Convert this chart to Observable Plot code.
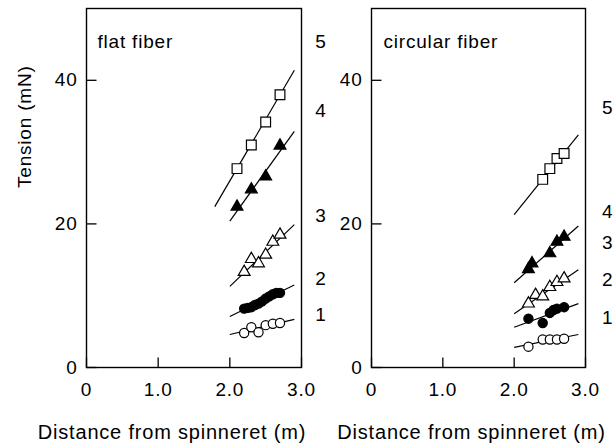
<!DOCTYPE html>
<html><head><meta charset="utf-8">
<script src="https://cdn.jsdelivr.net/npm/d3@7"></script>
<script src="https://cdn.jsdelivr.net/npm/@observablehq/plot@0.6"></script>
<style>
body{margin:0;background:#fff;}
#wrap{position:relative;width:613px;height:444px;overflow:hidden;}
#wrap svg{position:absolute;top:0;overflow:visible;}
</style></head><body><div id="wrap"></div>
<script>
// ---- data ----
const xTicks = [0, 1, 2, 3];
const xTickLabels = ["0", "1.0", "2.0", "3.0"];
const yTicks = [0, 20, 40];
const yTickLabels = ["0", "20", "40"];
const seriesNames = ["1", "2", "3", "4", "5"];
const panelTitles = ["flat fiber", "circular fiber"];
const xTitle = "Distance from spinneret (m)";
const yTitle = "Tension (mN)";

// flat fiber points
const flatX1 = [2.2, 2.3, 2.4, 2.5, 2.6, 2.7];
const flatY1 = [4.8, 5.6, 4.9, 5.9, 6.1, 6.2];
const flatX2 = [2.2, 2.25, 2.3, 2.35, 2.4, 2.45, 2.5, 2.55, 2.6, 2.65, 2.7];
const flatY2 = [8.2, 8.3, 8.4, 8.7, 8.9, 9.2, 9.6, 9.9, 10.2, 10.4, 10.4];
const flatX3 = [2.2, 2.3, 2.4, 2.5, 2.6, 2.7];
const flatY3 = [13.3, 15.1, 14.5, 15.7, 17.5, 18.5];
const flatX4 = [2.1, 2.3, 2.5, 2.7];
const flatY4 = [22.4, 24.8, 26.6, 30.9];
const flatX5 = [2.1, 2.3, 2.5, 2.7];
const flatY5 = [27.7, 31.0, 34.2, 38.0];
// flat fiber fit lines (series 1..5)
const flatLineX1 = [2.0, 2.0, 2.0, 2.0, 1.79];
const flatLineY1 = [4.6, 7.1, 11.3, 20.4, 22.4];
const flatLineX2 = [2.9, 2.9, 2.9, 2.9, 2.9];
const flatLineY2 = [6.7, 11.5, 19.9, 32.9, 41.4];
const flatLabelX = 3.27;
const flatLabelY = [7.3, 12.4, 21.1, 35.7, 45.3];

// circular fiber points
const circX1 = [2.2, 2.4, 2.5, 2.6, 2.7];
const circY1 = [2.9, 3.9, 3.9, 3.9, 4.0];
const circX2 = [2.2, 2.4, 2.5, 2.55, 2.6, 2.7];
const circY2 = [6.8, 6.2, 7.6, 8.0, 8.2, 8.4];
const circX3 = [2.2, 2.3, 2.4, 2.5, 2.6, 2.7];
const circY3 = [8.9, 10.1, 9.9, 11.2, 11.9, 12.4];
const circX4 = [2.2, 2.25, 2.5, 2.6, 2.7];
const circY4 = [13.7, 14.5, 15.9, 17.5, 18.2];
const circX5 = [2.4, 2.5, 2.6, 2.7];
const circY5 = [26.2, 27.7, 29.1, 29.8];
const circLineX1 = [2.0, 2.0, 2.0, 2.0, 2.0];
const circLineY1 = [2.8, 5.6, 7.5, 11.8, 21.3];
const circLineX2 = [2.9, 2.9, 2.9, 2.9, 2.9];
const circLineY2 = [4.6, 8.9, 13.6, 19.7, 32.4];
const circLabelX = 3.31;
const circLabelY = [6.9, 12.2, 17.3, 21.7, 36.2];

// ---- styles ----
const symbolOf = ["circle", "circle", "triangle", "triangle", "square"];
const fillOf = ["white", "black", "white", "black", "white"];
const rOf = [4.6, 4.6, 4.4, 4.4, 5.5];
const FONT = '"Liberation Sans", Arial, Helvetica, sans-serif';
const tickShape = {draw(ctx, l) { ctx.moveTo(0, 0); ctx.lineTo(0, -l); }};

function buildPanel(cfg) {
  const pts = cfg.xs.map((xa, i) => xa.map((x, j) => ({s: i, x, y: cfg.ys[i][j]})));
  const lines = seriesNames.map((s, i) => ({s, x1: cfg.lx1[i], y1: cfg.ly1[i], x2: cfg.lx2[i], y2: cfg.ly2[i]}));
  const labels = seriesNames.map((s, i) => ({s, y: cfg.labelY[i]}));
  const marks = [
    Plot.frame({stroke: "black", strokeWidth: 1.4}),
    Plot.vector(yTicks, {x: () => 0, y: d => d, length: 10, rotate: 90, anchor: "start", shape: tickShape, stroke: "black", strokeWidth: 1.3, strokeLinecap: "butt"}),
    Plot.vector(xTicks, {x: d => d, y: () => 0, length: 10, rotate: 0, anchor: "start", shape: tickShape, stroke: "black", strokeWidth: 1.3, strokeLinecap: "butt"}),
    Plot.axisY({ticks: yTicks, tickFormat: d => yTickLabels[yTicks.indexOf(d)], tickSize: 0, tickPadding: 9, label: null}),
    Plot.axisX({ticks: xTicks, tickFormat: d => xTickLabels[xTicks.indexOf(d)], tickSize: 0, tickPadding: 15, label: null}),
    Plot.link(lines, {x1: "x1", y1: "y1", x2: "x2", y2: "y2", stroke: "black", strokeWidth: 1.2}),
    ...pts.map((p, i) => Plot.dot(p, {x: "x", y: "y", symbol: () => symbolOf[i], r: rOf[i], fill: fillOf[i], stroke: "black", strokeWidth: 1.2})),
    Plot.text(labels, {x: () => cfg.labelX, y: "y", text: "s", textAnchor: "middle"}),
    Plot.text([cfg.title], {frameAnchor: "top-left", dx: cfg.titleDx, dy: 33, textAnchor: "start", lineAnchor: "middle"}),
    Plot.text([xTitle], {frameAnchor: "bottom", dx: cfg.xTitleDx, dy: 65, lineAnchor: "middle", fontSize: 20, letterSpacing: "1.2px"})
  ];
  if (cfg.yTitle) marks.push(Plot.text([yTitle], {frameAnchor: "left", dx: -62, rotate: -90, lineAnchor: "middle"}));
  const svg = Plot.plot({
    width: cfg.width, height: 444,
    marginLeft: cfg.marginLeft, marginRight: cfg.marginRight, marginTop: 8, marginBottom: 77,
    x: {domain: [0, 3]}, y: {domain: [0, 50]},
    symbol: {type: "identity"},
    style: {fontFamily: FONT, fontSize: "19px", color: "black", background: "transparent", overflow: "visible", letterSpacing: "0.8px"},
    marks
  });
  svg.style.left = cfg.left + "px";
  return svg;
}

const wrap = document.getElementById("wrap");
wrap.appendChild(buildPanel({
  left: 0, width: 340, marginLeft: 86, marginRight: 39,
  xs: [flatX1, flatX2, flatX3, flatX4, flatX5], ys: [flatY1, flatY2, flatY3, flatY4, flatY5],
  lx1: flatLineX1, ly1: flatLineY1, lx2: flatLineX2, ly2: flatLineY2,
  labelX: flatLabelX, labelY: flatLabelY, title: panelTitles[0], titleDx: 11, xTitleDx: -22, yTitle: true
}));
wrap.appendChild(buildPanel({
  left: 340, width: 273, marginLeft: 31, marginRight: 28,
  xs: [circX1, circX2, circX3, circX4, circX5], ys: [circY1, circY2, circY3, circY4, circY5],
  lx1: circLineX1, ly1: circLineY1, lx2: circLineX2, ly2: circLineY2,
  labelX: circLabelX, labelY: circLabelY, title: panelTitles[1], titleDx: 12, xTitleDx: -7, yTitle: false
}));
</script></body></html>
